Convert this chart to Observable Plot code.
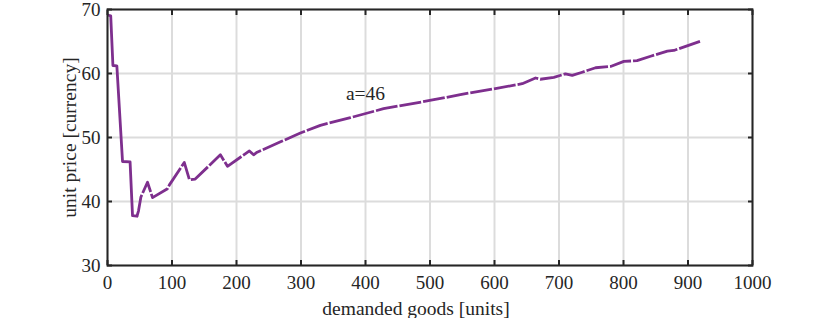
<!DOCTYPE html>
<html><head><meta charset="utf-8">
<script src="https://cdn.jsdelivr.net/npm/d3@7"></script>
<script src="https://cdn.jsdelivr.net/npm/@observablehq/plot@0.6"></script>
<style>body{margin:0;background:#fff;} svg, svg text{font-family:"Liberation Serif",serif !important;}</style>
</head><body><div id="chart"></div>
<script>
const goods = [1.5,5,8.4,14.5,23.3,35,38.8,45.6,48,51.8,62,69.8,93,96,119,127,136,175,186,220,226.5,232,270,299,330,376.6,428,506,547,599,643,663.6,671,692,710,720.5,736,756.7,780,800.6,821,842,868,878,919.6];
const price = [69.1,69,61.25,61.2,46.25,46.2,37.8,37.7,38.5,40.7,43,40.6,42,42.6,46.1,43.4,43.5,47.3,45.5,47.9,47.3,47.7,49.4,50.7,51.9,53.1,54.5,55.9,56.7,57.6,58.4,59.3,59.1,59.4,59.95,59.7,60.2,60.9,61.1,61.9,62.0,62.7,63.5,63.6,65.05];
const xTicks = [0,100,200,300,400,500,600,700,800,900,1000];
const yTicks = [30,40,50,60,70];
const annotation = [{x: 400, y: 56.8, text: "a=46"}];

const data = goods.map((g, i) => ({g, p: price[i]}));
const solidPart = data.filter(d => d.g <= 45.6);
const dashedPart = data.filter(d => d.g >= 45.6);
const axisColor = "#262626";
const purple = "#7E2F8E";
const serif = "Liberation Serif, serif";

const chart = Plot.plot({
  width: 830, height: 318,
  marginLeft: 107, marginRight: 78, marginTop: 9, marginBottom: 53,
  style: {fontFamily: serif, fontSize: "19px", color: axisColor},
  x: {domain: [0, 1000]},
  y: {domain: [30, 70]},
  marks: [
    Plot.gridX(xTicks, {stroke: "#dcdcdc", strokeOpacity: 1, strokeWidth: 2}),
    Plot.gridY(yTicks, {stroke: "#dcdcdc", strokeOpacity: 1, strokeWidth: 2}),
    Plot.line(solidPart, {x: "g", y: "p", stroke: purple, strokeWidth: 2.8}),
    Plot.line(dashedPart, {x: "g", y: "p", stroke: purple, strokeWidth: 2.8, strokeDasharray: "22,2", strokeLinecap: "butt"}),
    Plot.frame({stroke: axisColor, strokeWidth: 2}),
    Plot.axisX(xTicks, {anchor: "bottom", tickSize: -5, strokeWidth: 2, stroke: axisColor, text: null, label: null}),
    Plot.axisX(xTicks, {anchor: "top", tickSize: -5, strokeWidth: 2, stroke: axisColor, text: null, label: null}),
    Plot.axisY(yTicks, {anchor: "left", tickSize: -5, strokeWidth: 2, stroke: axisColor, text: null, label: null}),
    Plot.axisY(yTicks, {anchor: "right", tickSize: -5, strokeWidth: 2, stroke: axisColor, text: null, label: null}),
    Plot.axisX(xTicks, {anchor: "bottom", tickSize: 0, tickPadding: 10, fontSize: 19, fontFamily: serif, fill: axisColor, label: null, tickFormat: d => String(d)}),
    Plot.axisY(yTicks, {anchor: "left", tickSize: 0, tickPadding: 7, fontSize: 19, fontFamily: serif, fill: axisColor, label: null, tickFormat: d => String(d)}),
    Plot.text(["demanded goods [units]"], {frameAnchor: "bottom", lineAnchor: "middle", dy: 43, dx: -14, fontSize: 19.5, fontFamily: serif, fill: axisColor}),
    Plot.text(["unit price [currency]"], {frameAnchor: "left", textAnchor: "middle", lineAnchor: "middle", dx: -38, rotate: -90, fontSize: 19.5, fontFamily: serif, fill: axisColor}),
    Plot.text(annotation, {x: "x", y: "y", text: "text", fontSize: 19.5, fontFamily: serif, fill: axisColor})
  ]
});
document.getElementById("chart").append(chart);
</script></body></html>
